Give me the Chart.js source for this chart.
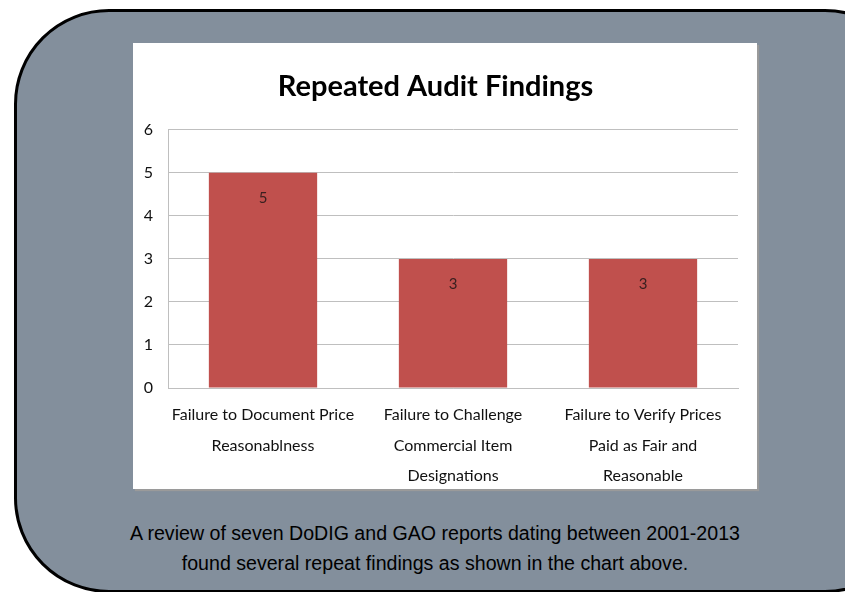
<!DOCTYPE html>
<html>
<head>
<meta charset="utf-8">
<script src="https://cdn.jsdelivr.net/npm/chart.js@4.4.0/dist/chart.umd.min.js"></script>
<style>
  html, body { margin: 0; padding: 0; background: #ffffff; }
  body { width: 845px; height: 592px; position: relative; overflow: hidden; }
  #frame {
    position: absolute; left: 14px; top: 9px; width: 900px; height: 578px;
    background: #838f9c; border: 3px solid #000; border-radius: 95px;
  }
  #panel {
    position: absolute; left: 133px; top: 43px; width: 624px; height: 446px;
    background: #fff; box-shadow: 2px 2px 1px #9a9a9a;
  }
  #caption {
    position: absolute; left: 90px; top: 518px; width: 690px; text-align: center;
    font-family: "Liberation Sans", Arial, sans-serif; font-size: 19.6px; line-height: 30px; color: #000;
  }
</style>
</head>
<body>
<div id="frame"></div>
<div id="panel"><canvas id="myChart" width="624" height="446"></canvas></div>
<div id="caption">A review of seven DoDIG and GAO reports dating between 2001-2013<br>found several repeat findings as shown in the chart above.</div>
<script>
// chart data
const categories = [
  ["Failure to Document Price", "Reasonablness"],
  ["Failure to Challenge", "Commercial Item", "Designations"],
  ["Failure to Verify Prices", "Paid as Fair and", "Reasonable"],
];
const findings = [5, 3, 3];
const yTicks = [0, 1, 2, 3, 4, 5, 6];

// draws the value inside the top of each bar
const barLabels = {
  id: "barLabels",
  afterDatasetsDraw(chart) {
    const ctx = chart.ctx;
    const meta = chart.getDatasetMeta(0);
    ctx.save();
    ctx.font = "15px Lato";
    ctx.fillStyle = "#3a2020";
    ctx.textAlign = "center";
    ctx.textBaseline = "middle";
    meta.data.forEach((bar, i) => {
      ctx.fillText(String(findings[i]), bar.x, bar.y + 25);
    });
    ctx.restore();
  },
};

var ctx = document.getElementById("myChart").getContext("2d");
var myChart = new Chart(ctx, {
  type: "bar",
  data: {
    labels: categories,
    datasets: [
      {
        label: "Findings",
        data: findings,
        backgroundColor: "#c0504d",
        borderWidth: 0,
        categoryPercentage: 1,
        barPercentage: 0.57,
      },
    ],
  },
  options: {
    responsive: false,
    animation: false,
    layout: { padding: { left: 0, right: 19, top: 0, bottom: 0 } },
    plugins: {
      legend: { display: false },
      tooltip: { enabled: false },
      title: {
        display: true,
        text: "Repeated Audit Findings",
        color: "#000",
        font: { family: "Lato", size: 29, weight: "bold" },
        padding: { top: 26, bottom: 26 },
      },
    },
    scales: {
      x: {
        grid: { display: false, drawTicks: false },
        border: { color: "#bfbfbf" },
        ticks: {
          color: "#111",
          font: { family: "Lato", size: 16, lineHeight: 1.9 },
          padding: 12,
          maxRotation: 0,
          autoSkip: false,
        },
        afterFit(scale) { scale.height = 101; },
      },
      y: {
        min: 0,
        max: 6,
        afterBuildTicks(scale) { scale.ticks = yTicks.map((v) => ({ value: v })); },
        grid: { color: "#bfbfbf", drawTicks: false },
        border: { color: "#bfbfbf" },
        ticks: {
          color: "#111",
          font: { family: "Lato", size: 16 },
          padding: 15,
        },
        afterFit(scale) { scale.width = 35; },
      },
    },
  },
  plugins: [barLabels],
});
</script>
</body>
</html>
